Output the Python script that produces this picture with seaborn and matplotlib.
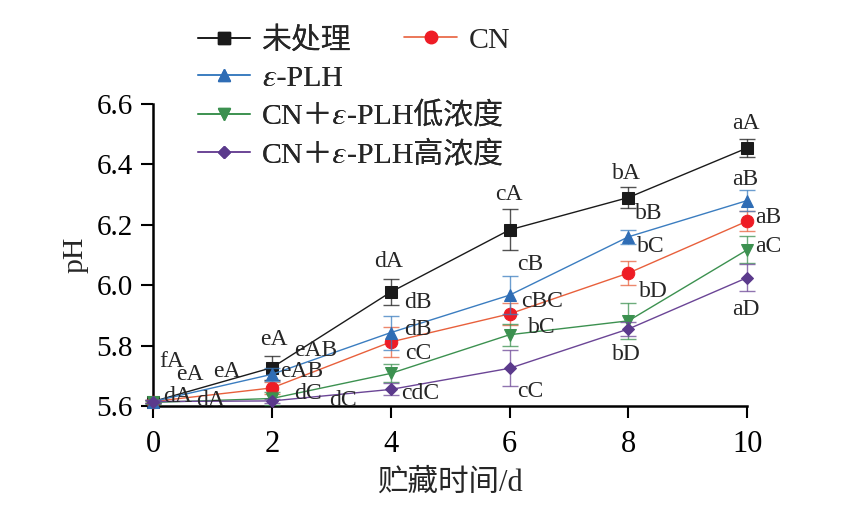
import numpy as np
import pandas as pd
import matplotlib
matplotlib.use("Agg")
import matplotlib.pyplot as plt
import seaborn as sns
from matplotlib.lines import Line2D

# data
days = [0, 2, 4, 6, 8, 10]
series_names = ["未处理", "CN", "𝜀-PLH", "CN＋𝜀-PLH低浓度", "CN＋𝜀-PLH高浓度"]

ph_control = [5.615, 5.727, 5.977, 6.183, 6.290, 6.454]
ph_cn = [5.615, 5.660, 5.812, 5.905, 6.040, 6.212]
ph_plh = [5.615, 5.705, 5.843, 5.967, 6.160, 6.280]
ph_low = [5.612, 5.625, 5.708, 5.836, 5.882, 6.117]
ph_high = [5.615, 5.617, 5.655, 5.725, 5.855, 6.025]

err_control = [0.005, 0.040, 0.043, 0.068, 0.034, 0.030]
err_cn = [0.005, 0.020, 0.050, 0.036, 0.041, 0.033]
err_plh = [0.005, 0.022, 0.056, 0.063, 0.024, 0.034]
err_low = [0.005, 0.020, 0.030, 0.037, 0.060, 0.045]
err_high = [0.005, 0.008, 0.020, 0.060, 0.022, 0.044]

# significance letters per series (one per day)
lab_control = ["fA", "eA", "dA", "cA", "bA", "aA"]
lab_cn = ["eA", "eAB", "dB", "cBC", "bC", "aB"]
lab_plh = ["eA", "eAB", "dB", "cB", "bB", "aB"]
lab_low = ["dA", "dC", "cC", "bC", "bD", "aC"]
lab_high = ["dA", "dC", "cdC", "cC", "bD", "aD"]

# where each letter sits (data coords)
pos_control = [(0.31, 5.749), (2.03, 5.82), (3.96, 6.077), (5.98, 6.30), (7.97, 6.37), (9.97, 6.536)]
pos_cn = [(1.24, 5.714), (2.50, 5.714), (4.45, 5.852), (6.54, 5.945), (8.37, 6.128), (10.36, 6.225)]
pos_plh = [(0.62, 5.703), (2.73, 5.783), (4.45, 5.942), (6.35, 6.067), (8.34, 6.238), (9.97, 6.35)]
pos_low = [(0.42, 5.631), (2.61, 5.643), (4.47, 5.775), (6.54, 5.86), (8.42, 5.978), (10.36, 6.128)]
pos_high = [(0.96, 5.618), (3.20, 5.620), (4.49, 5.64), (6.35, 5.647), (7.97, 5.769), (9.97, 5.918)]

sns.set_theme(style="ticks")
plt.rcParams['font.family'] = ['Liberation Serif', 'STIXGeneral', 'Noto Sans CJK SC']
plt.rcParams['axes.unicode_minus'] = False

fig = plt.figure(figsize=(8.55, 5.14), dpi=100)
ax = fig.add_axes([0.179, 0.210, 0.695, 0.588])

styles = [
    (ph_control, err_control, "#1a1a1a", "#1a1a1a", "s", 8),
    (ph_cn, err_cn, "#e8603c", "#ee1c25", "o", 9),
    (ph_plh, err_plh, "#3b7dc0", "#2f6db5", "^", 8.5),
    (ph_low, err_low, "#3c9150", "#3c9150", "v", 8.5),
    (ph_high, err_high, "#6b4596", "#5b3a8c", "D", 6.5),
]

handles = []
for i, (vals, errs, lc, mc, mk, ms) in enumerate(styles):
    ax.errorbar(days, vals, yerr=errs, fmt="none", ecolor=lc, elinewidth=1.0,
                capsize=6, capthick=1.0, alpha=0.75, zorder=2 + i, clip_on=False)
    sns.lineplot(x=days, y=vals, ax=ax, color=lc, linewidth=1.0, marker=mk,
                 markersize=ms, markerfacecolor=mc, markeredgecolor=mc,
                 zorder=3 + i, clip_on=False)
    handles.append(Line2D([], [], color=lc, linewidth=1.2, marker=mk, markersize=ms,
                          markerfacecolor=mc, markeredgecolor=mc))

for labs, pos in [(lab_control, pos_control), (lab_cn, pos_cn), (lab_plh, pos_plh),
                  (lab_low, pos_low), (lab_high, pos_high)]:
    for t, (px, py) in zip(labs, pos):
        ax.text(px, py, t, fontsize=17, ha="center", va="center", zorder=20, clip_on=False)

ax.set_xlim(0, 10)
ax.set_ylim(5.6, 6.6)
ax.set_xticks(days)
ax.set_yticks([5.6, 5.8, 6.0, 6.2, 6.4, 6.6])
ax.set_yticklabels(["5.6", "5.8", "6.0", "6.2", "6.4", "6.6"])
ax.tick_params(axis="both", direction="out", length=8.5, width=1.5, colors="black")
ax.tick_params(axis="x", pad=9, labelsize=22)
ax.tick_params(axis="y", pad=6, labelsize=21)
for s in ["top", "right"]:
    ax.spines[s].set_visible(False)
for s in ["left", "bottom"]:
    ax.spines[s].set_linewidth(1.8)
    ax.spines[s].set_color("black")
ax.set_xlabel("贮藏时间/d", fontsize=22, labelpad=7)
ax.set_ylabel("pH", fontsize=21.5, labelpad=6)

# legend: 4 entries in the left column, CN alone to the right
left_idx = [0, 2, 3, 4]
leg1 = fig.legend([handles[i] for i in left_idx], [series_names[i] for i in left_idx],
                  loc="upper left", bbox_to_anchor=(0.2175, 0.971), frameon=False,
                  fontsize=21.5, handlelength=1.75, labelspacing=0.35, handletextpad=0.4,
                  borderaxespad=0)
fig.add_artist(leg1)
fig.legend([handles[1]], [series_names[1]], loc="upper left", bbox_to_anchor=(0.459, 0.971),
           frameon=False, fontsize=21.5, handlelength=1.75, handletextpad=0.4, borderaxespad=0)

fig.savefig("out.png", dpi=100)
